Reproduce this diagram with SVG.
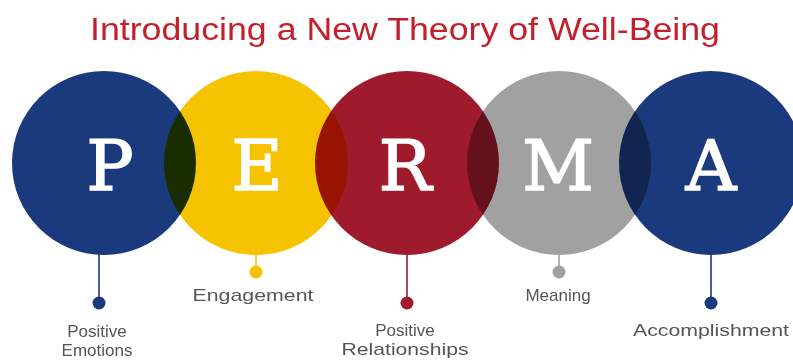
<svg xmlns="http://www.w3.org/2000/svg" width="793" height="361" viewBox="0 0 793 361">
<style>
.c{mix-blend-mode:multiply}
.L{font-family:"DejaVu Serif","Liberation Serif",serif;font-size:70px;fill:#fff;stroke:#fff;stroke-width:1.6;text-anchor:middle}
.t{font-family:"Liberation Sans","DejaVu Sans",sans-serif;font-size:17px;fill:#555;text-anchor:middle}
.ln{stroke-width:1.6}
</style>
<rect width="793" height="361" fill="#fff"/>
<text x="405" y="40" font-family="Liberation Sans, DejaVu Sans, sans-serif" font-size="31" fill="#c3202b" text-anchor="middle" textLength="630" lengthAdjust="spacingAndGlyphs">Introducing a New Theory of Well-Being</text>
<g id="circles" style="isolation:isolate">
<g id="node-P"><circle class="c" cx="104" cy="163" r="92" fill="#1b3a7e"/></g>
<g id="node-E"><circle class="c" cx="256" cy="163" r="92" fill="#f5c300"/></g>
<g id="node-R"><circle class="c" cx="407" cy="163" r="92" fill="#9e1a2c"/></g>
<g id="node-M"><circle class="c" cx="559" cy="163" r="92" fill="#a1a1a1"/></g>
<g id="node-A"><circle class="c" cx="711" cy="163" r="92" fill="#1b3a7e"/></g>
</g>
<g id="letters">
<text class="L" x="110" y="190">P</text>
<text class="L" x="257" y="190">E</text>
<text class="L" x="405" y="190">R</text>
<text class="L" x="558" y="190">M</text>
<text class="L" x="711" y="190">A</text>
</g>
<g id="connectors">
<line class="ln" x1="99" y1="254" x2="99" y2="303" stroke="#1b3a7e"/>
<circle cx="99" cy="303" r="6.5" fill="#1b3a7e"/>
<line class="ln" x1="256" y1="254" x2="256" y2="272" stroke="#f5c300"/>
<circle cx="256" cy="272" r="6.5" fill="#f5c300"/>
<line class="ln" x1="407" y1="254" x2="407" y2="303" stroke="#9e1a2c"/>
<circle cx="407" cy="303" r="6.5" fill="#9e1a2c"/>
<line class="ln" x1="559" y1="254" x2="559" y2="272" stroke="#a1a1a1"/>
<circle cx="559" cy="272" r="6.5" fill="#a1a1a1"/>
<line class="ln" x1="711" y1="254" x2="711" y2="303" stroke="#1b3a7e"/>
<circle cx="711" cy="303" r="6.5" fill="#1b3a7e"/>
</g>
<g id="labels">
<text class="t" x="97" y="337">Positive</text>
<text class="t" x="97" y="356">Emotions</text>
<text class="t" x="253" y="301" textLength="121" lengthAdjust="spacingAndGlyphs">Engagement</text>
<text class="t" x="405" y="336">Positive</text>
<text class="t" x="405" y="355" textLength="127" lengthAdjust="spacingAndGlyphs">Relationships</text>
<text class="t" x="558" y="301">Meaning</text>
<text class="t" x="711" y="336" textLength="156" lengthAdjust="spacingAndGlyphs">Accomplishment</text>
</g>
</svg>
